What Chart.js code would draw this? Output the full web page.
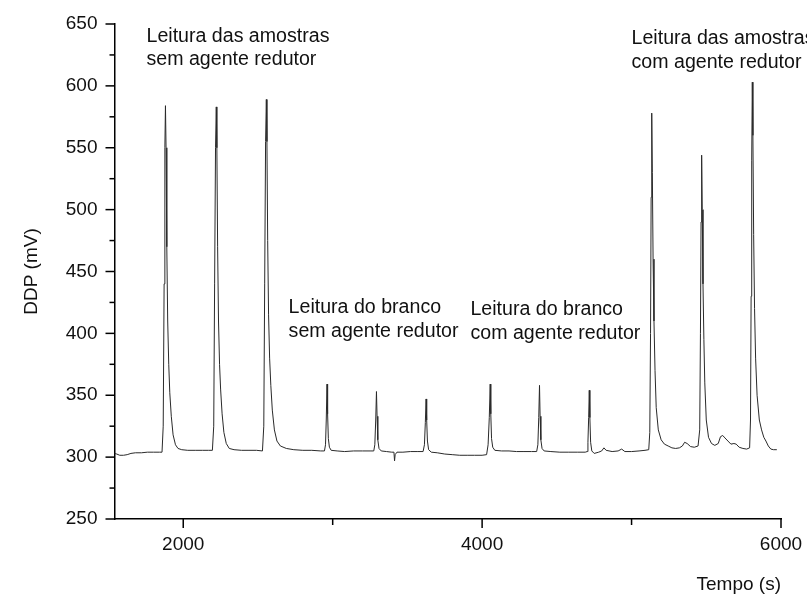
<!DOCTYPE html>
<html>
<head>
<meta charset="utf-8">
<script src="https://cdn.jsdelivr.net/npm/chart.js@4.4.1/dist/chart.umd.min.js"></script>
<style>
  html, body { margin: 0; padding: 0; background: #fff; }
  #wrap { width: 807px; height: 597px; }
</style>
</head>
<body>
<div id="wrap"><canvas id="c" width="807" height="597"></canvas></div>
<script>
// ---- data ----
const times = [
  1540,1555,1575,1600,1625,1650,1680,1720,1760,1800,1840,1858,
  1866,1872,1877,1881,1885,1890,1896,1903,1910,1920,1932,1948,1965,1990,2030,2080,2130,2170,2195,
  2204,2210,2216,2221,2225,2230,2236,2243,2250,2260,2272,2288,2308,2340,2390,2440,2490,2530,
  2539,2545,2551,2556,2560,2565,2571,2578,2586,2596,2610,2627,2650,2690,2740,2800,2860,2920,2945,
  2952,2957,2962,2966,2971,2978,2990,3030,3080,3140,3200,3250,3275,
  3282,3288,3293,3297,3302,3310,3325,3360,3395,3410,3414,3418,3430,3470,3520,3570,3605,
  3614,3620,3625,3629,3634,3642,3660,3700,3750,3800,3850,3900,3950,4000,4030,
  4040,4048,4054,4058,4063,4071,4085,4130,4180,4230,4280,4330,4365,
  4373,4379,4384,4388,4393,4401,4415,4460,4520,4580,4640,4690,4703,
  4708,4713,4717,4721,4726,4734,4750,4780,4800,4815,4830,4870,4910,4934,4955,5000,5050,5090,5115,
  5122,5127,5131,5135,5139,5144,5150,5157,5165,5179,5198,5220,5245,5270,5295,5320,5340,5355,5372,5395,5420,5445,
  5456,5461,5465,5469,5473,5478,5484,5490,5500,5515,5535,5557,5580,5595,5610,5625,5645,5665,5685,5700,5720,5745,5770,5790,
  5796,5800,5804,5808,5812,5817,5823,5830,5840,5855,5870,5885,5899,5915,5932,5950,5972
];
const ddp = [
  303,302.5,301.5,301.5,302,303,303.5,303.5,304,304,304,304,
  325,440,550,584,550,470,410,375,352,333,318,310,307,306,305.5,305.5,305.5,305.5,305.5,
  325,440,550,583,550,470,410,375,355,335,320,311,307,306,305.5,305.5,305.5,305,
  325,440,555,589,555,475,415,380,358,338,322,313,309,307,306,305.5,305.5,305,305,
  310,330,359,335,315,308,305.5,305,304.5,305,305,305,305,
  310,330,353,333,314,307,305,304.5,304,304,297,302,304,304,304.5,304.5,304.5,
  310,328,347,330,313,306,304,303.5,302.5,302,301.5,301.5,301.5,301.5,302,
  310,332,359,335,315,308,305.5,305,305,304.5,304.5,304.5,304.5,
  310,332,358,333,314,307,305,304.5,304,304,304,304,304.5,
  312,332,354,332,312,305,303,304,305,307.5,305.5,304.5,305,306.5,304.5,304.5,305,305.5,306,
  320,400,510,578,530,460,410,370,340,322,314,310.5,309,307.5,307,307.5,309,312,311,308.5,308,309,
  322,400,490,544,500,440,395,360,330,316,311,309.5,311,316.5,317.5,315.5,313,310.5,311,310.5,308,307,306.5,307.5,
  330,430,540,603,560,480,420,380,350,330,322,316,313,309,306.5,306,306
];
const xTickValues = [2000, 3000, 4000, 5000, 6000];
const xTickLabels = ['2000', '', '4000', '', '6000'];
const yTickValues = [250,275,300,325,350,375,400,425,450,475,500,525,550,575,600,625,650];
const yTickLabels = ['250','','300','','350','','400','','450','','500','','550','','600','','650'];
const annotationLines = [
  ['Leitura das amostras', 'sem agente redutor'],
  ['Leitura do branco', 'sem agente redutor'],
  ['Leitura do branco', 'com agente redutor'],
  ['Leitura das amostras', 'com agente redutor']
];
const annotationAnchor = [ // [time, mV] at the first text baseline
  [1754, 635.7],
  [2705, 416.2],
  [3922, 414.8],
  [5000, 633.6]
];
// ---------------------------------------

Chart.defaults.font.family = "'Liberation Sans', Arial, sans-serif";
Chart.defaults.color = '#111';

const points = times.map((t, i) => ({ x: t, y: ddp[i] }));

const tickMarks = {
  id: 'tickMarks',
  afterDraw(chart) {
    const ctx = chart.ctx;
    const xs = chart.scales.x, ys = chart.scales.y;
    ctx.save();
    ctx.strokeStyle = '#000';
    ctx.lineWidth = 1.5;
    ys.ticks.forEach(t => {
      const y = ys.getPixelForValue(t.value);
      const len = (t.value % 50 === 0) ? 9 : 5;
      ctx.beginPath(); ctx.moveTo(ys.right, y); ctx.lineTo(ys.right - len, y); ctx.stroke();
    });
    xs.ticks.forEach(t => {
      const x = xs.getPixelForValue(t.value);
      const len = (t.value % 2000 === 0) ? 9 : 6;
      ctx.beginPath(); ctx.moveTo(x, xs.top); ctx.lineTo(x, xs.top + len); ctx.stroke();
    });
    ctx.restore();
  }
};

const annotations = {
  id: 'annotations',
  afterDraw(chart) {
    const ctx = chart.ctx;
    const xs = chart.scales.x, ys = chart.scales.y;
    ctx.save();
    ctx.fillStyle = '#111';
    ctx.font = "19.6px 'Liberation Sans', Arial, sans-serif";
    ctx.textAlign = 'left';
    ctx.textBaseline = 'alphabetic';
    annotationLines.forEach((lines, i) => {
      const x = xs.getPixelForValue(annotationAnchor[i][0]);
      const y = ys.getPixelForValue(annotationAnchor[i][1]);
      lines.forEach((s, j) => ctx.fillText(s, x, y + j * 23.5));
    });
    ctx.restore();
  }
};

new Chart(document.getElementById('c'), {
  type: 'line',
  data: {
    datasets: [{
      data: points,
      borderColor: '#2a2a2a',
      borderWidth: 1,
      pointRadius: 0,
      tension: 0,
      fill: false
    }]
  },
  options: {
    responsive: false,
    animation: false,
    events: [],
    layout: { padding: { top: 24, right: 26, left: 0, bottom: 0 } },
    plugins: { legend: { display: false }, tooltip: { enabled: false } },
    scales: {
      x: {
        type: 'linear',
        min: 1540,
        max: 6000,
        afterBuildTicks: s => { s.ticks = xTickValues.map(v => ({ value: v })); },
        afterFit: s => { s.height = 78; s.paddingLeft = 0; s.paddingRight = 0; },
        grid: { display: false, drawTicks: false },
        border: { display: true, color: '#000', width: 1.5 },
        ticks: {
          autoSkip: false, maxRotation: 0, padding: 14,
          font: { size: 19 }, color: '#111',
          callback: (v) => xTickLabels[xTickValues.indexOf(v)] ?? ''
        },
        title: {
          display: true, text: 'Tempo (s)', align: 'end',
          font: { size: 19 }, color: '#111',
          padding: { top: 0, bottom: 1 }
        }
      },
      y: {
        type: 'linear',
        min: 250,
        max: 650,
        afterBuildTicks: s => { s.ticks = yTickValues.map(v => ({ value: v })); },
        afterFit: s => { s.width = 114.5; s.paddingTop = 0; s.paddingBottom = 0; },
        grid: { display: false, drawTicks: false },
        border: { display: true, color: '#000', width: 1.5 },
        ticks: {
          autoSkip: false, padding: 17,
          font: { size: 19 }, color: '#111',
          callback: (v) => yTickLabels[yTickValues.indexOf(v)] ?? ''
        },
        title: {
          display: true, text: 'DDP (mV)',
          font: { size: 19 }, color: '#111',
          padding: { top: 20.6, bottom: 0 }
        }
      }
    }
  },
  plugins: [tickMarks, annotations]
});
</script>
</body>
</html>
